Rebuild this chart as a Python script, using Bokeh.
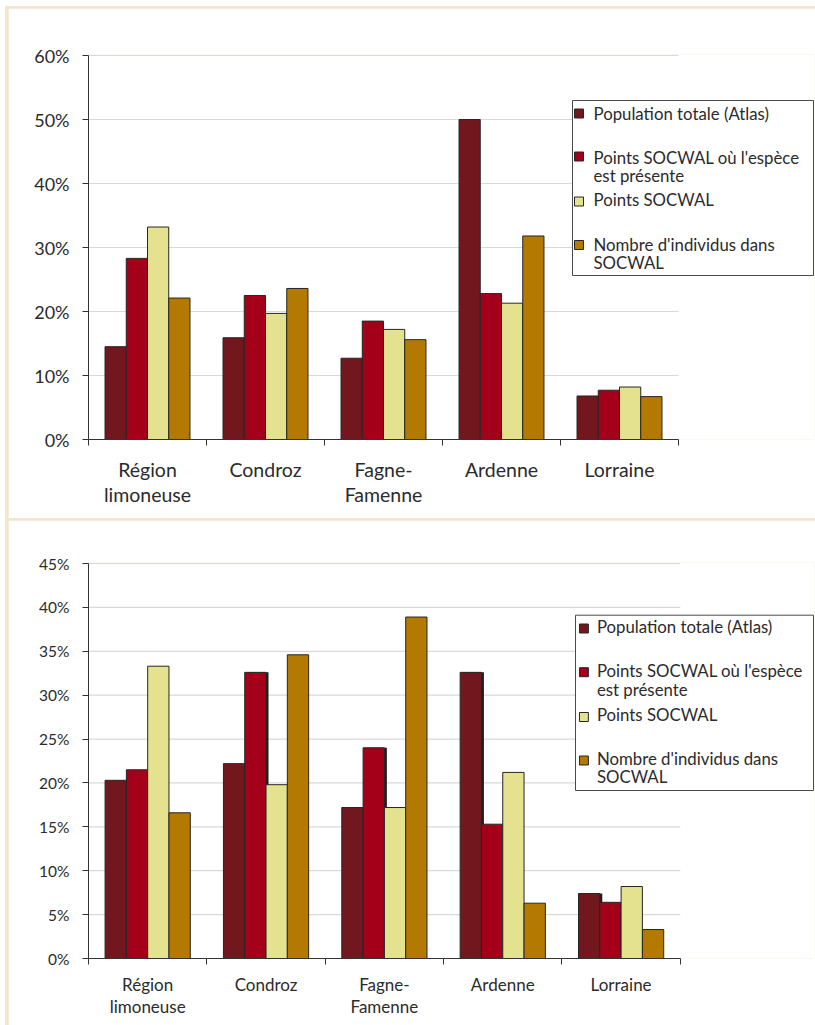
from bokeh.plotting import figure
from bokeh.layouts import column
from bokeh.models import Range1d, FixedTicker, PrintfTickFormatter
from bokeh.core.properties import value
from bokeh.embed import file_html
from bokeh.resources import INLINE

# ---- data -------------------------------------------------------------
categories = ["Région limoneuse", "Condroz", "Fagne-Famenne", "Ardenne", "Lorraine"]
category_labels = ["Région\nlimoneuse", "Condroz", "Fagne-\nFamenne", "Ardenne", "Lorraine"]
series_names = [
    "Population totale (Atlas)",
    "Points SOCWAL où l'espèce est présente",
    "Points SOCWAL",
    "Nombre d'individus dans SOCWAL",
]
legend_lines = [
    ["Population totale (Atlas)"],
    ["Points SOCWAL où l'espèce", "est présente"],
    ["Points SOCWAL"],
    ["Nombre d'individus dans", "SOCWAL"],
]
colors = ["#73171e", "#a50019", "#e4e28e", "#b37900"]

# upper chart, share per region (%)
atlas_upper = [14.5, 15.9, 12.7, 50.0, 6.8]
presence_upper = [28.3, 22.5, 18.5, 22.8, 7.7]
points_upper = [33.2, 19.7, 17.2, 21.3, 8.2]
individus_upper = [22.1, 23.6, 15.6, 31.8, 6.7]

# lower chart, share per region (%)
atlas_lower = [20.3, 22.2, 17.2, 32.6, 7.4]
presence_lower = [21.5, 32.6, 24.0, 15.3, 6.4]
points_lower = [33.3, 19.8, 17.2, 21.2, 8.2]
individus_lower = [16.6, 34.6, 38.9, 6.3, 3.3]

# bars of the lower chart that carry a dark offset edge (series index, region)
shadowed_lower = [(1, "Condroz"), (1, "Fagne-Famenne"), (0, "Ardenne"), (0, "Lorraine")]

FONT = "Lato"
TEXT = "#2b2b2b"
AXIS = "#333333"
BAR_W = 0.18
OFFSETS = [-0.27, -0.09, 0.09, 0.27]
FIG_W = 807
LEGEND_PX = 16.8


def make_panel(series, ymax, ystep, fig_h, left, top_px, zero_px, cat_px,
               box, swatch_x, swatch_y, text_x, text_base,
               tick_size, cat_size, cat_standoff, cat_line_height, shadows=()):
    unit_px = (zero_px - top_px) / ymax
    frame_right = FIG_W - 1
    x_end = (frame_right - left) / cat_px
    y_end = ymax + 1.0 / unit_px

    def dx(px):
        return (px - left) / cat_px

    def dy(px):
        return (zero_px - px) / unit_px

    p = figure(width=FIG_W, height=fig_h,
               x_range=Range1d(0, x_end), y_range=Range1d(0, y_end),
               output_backend="svg", toolbar_location=None,
               min_border_left=left, min_border_right=1,
               min_border_top=top_px - 1, min_border_bottom=fig_h - zero_px)
    p.outline_line_color = None
    p.background_fill_color = "white"
    p.border_fill_color = "white"
    p.xgrid.visible = False
    p.ygrid.visible = False

    n = len(categories)
    # horizontal gridlines, limited to the category span
    grid_vals = list(range(ystep, ymax + 1, ystep))
    p.segment(x0=[0] * len(grid_vals), y0=grid_vals, x1=[n] * len(grid_vals), y1=grid_vals,
              line_color="#d9d9d9", line_width=1.2)

    # dark offset edges drawn behind some bars
    for k, cat in shadows:
        i = categories.index(cat)
        p.vbar(x=[i + 0.5 + OFFSETS[k] + 2.5 / cat_px], top=[series[k][i]], width=BAR_W,
               bottom=0, fill_color="#1e1e1e", line_color=None)

    for k, vals in enumerate(series):
        xs = [i + 0.5 + OFFSETS[k] for i in range(n)]
        p.vbar(x=xs, top=vals, width=BAR_W, bottom=0,
               fill_color=colors[k], line_color="#262626", line_width=1)

    # y axis
    yax = p.yaxis[0]
    yax.ticker = FixedTicker(ticks=list(range(0, ymax + 1, ystep)))
    yax.formatter = PrintfTickFormatter(format="%d%%")
    yax.bounds = (0, ymax)
    yax.axis_line_color = AXIS
    yax.major_tick_line_color = AXIS
    yax.major_tick_out = 6
    yax.major_tick_in = 0
    yax.minor_tick_line_color = None
    yax.major_label_standoff = 13
    yax.major_label_text_font = FONT
    yax.major_label_text_font_size = tick_size
    yax.major_label_text_color = TEXT

    # x axis: labels centred, tick marks between regions
    xax = p.xaxis[0]
    xax.ticker = FixedTicker(ticks=[i + 0.5 for i in range(n)],
                             minor_ticks=list(range(n + 1)))
    xax.bounds = (0, n)
    xax.major_label_overrides = {i + 0.5: lab for i, lab in enumerate(category_labels)}
    xax.axis_line_color = AXIS
    xax.major_tick_line_color = None
    xax.major_tick_out = 0
    xax.major_tick_in = 0
    xax.minor_tick_line_color = AXIS
    xax.minor_tick_out = 6
    xax.minor_tick_in = 0
    xax.major_label_standoff = cat_standoff
    xax.major_label_text_font = FONT
    xax.major_label_text_font_size = cat_size
    xax.major_label_text_color = TEXT
    xax.major_label_text_line_height = cat_line_height

    # legend box
    bx0, bx1, by0, by1 = box
    p.quad(left=[dx(bx0)], right=[dx(bx1)], top=[dy(by0)], bottom=[dy(by1)],
           fill_color="white", line_color="#4a4a4a", line_width=1)
    sw = 9
    for k in range(len(series)):
        cy = swatch_y[k]
        p.quad(left=[dx(swatch_x)], right=[dx(swatch_x + sw)],
               top=[dy(cy - sw / 2)], bottom=[dy(cy + sw / 2)],
               fill_color=colors[k], line_color="#262626", line_width=1)
    lines = [ln for group in legend_lines for ln in group]
    lift = 0.47 * LEGEND_PX
    p.text(x=[dx(text_x)] * len(lines), y=[dy(b - lift) for b in text_base], text=lines,
           text_font=value(FONT), text_font_size=f"{LEGEND_PX}px", text_color=TEXT,
           text_align="left", text_baseline="alphabetic")
    return p


upper = make_panel(
    [atlas_upper, presence_upper, points_upper, individus_upper],
    ymax=60, ystep=10, fig_h=510, left=80, top_px=47, zero_px=431, cat_px=118,
    box=(564, 805, 92, 267), swatch_x=566, swatch_y=[105, 148, 193, 236.5],
    text_x=585, text_base=[113.3, 156.7, 174.7, 199.3, 244.3, 262],
    tick_size="18px", cat_size="19.5px", cat_standoff=12, cat_line_height=1.12,
)

lower = make_panel(
    [atlas_lower, presence_lower, points_lower, individus_lower],
    ymax=45, ystep=5, fig_h=505, left=73, top_px=43, zero_px=438, cat_px=119.5,
    box=(564.7, 805, 94.7, 270), swatch_x=568.7, swatch_y=[108, 151.7, 196.5, 240],
    text_x=586.3, text_base=[114.3, 157.7, 176.7, 201.7, 245.7, 264.3],
    tick_size="15.5px", cat_size="17px", cat_standoff=9, cat_line_height=1.08,
    shadows=shadowed_lower,
)

upper.margin = (2, 0, 0, 3)
lower.margin = (0, 0, 0, 3)
page = column(upper, lower, spacing=2, margin=(6, 0, 0, 5),
              styles={"background-color": "#f2e6cf"})

open("out.html", "w").write(file_html(page, INLINE))
